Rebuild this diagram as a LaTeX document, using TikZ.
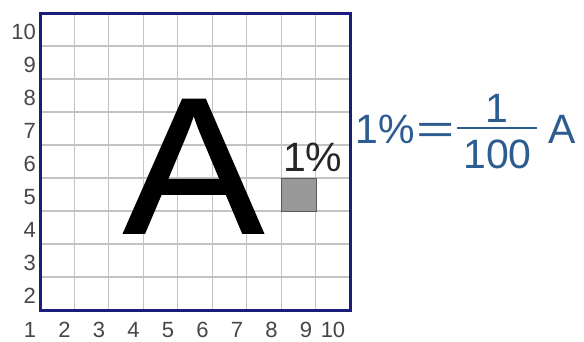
\documentclass[tikz,border=0pt]{standalone}
\usepackage{fontspec}
\setmainfont{Liberation Sans}
\newfontfamily\heavysans[FakeBold=1]{Liberation Sans}
\definecolor{framenavy}{RGB}{28,28,125}
\definecolor{gridgray}{RGB}{195,195,195}
\definecolor{labgray}{RGB}{70,70,70}
\definecolor{eqblue}{RGB}{45,92,145}
\newcommand{\fsz}[1]{\fontsize{#1}{#1}\selectfont}

\begin{document}
\begin{tikzpicture}[x=1pt,y=-1pt,every node/.style={inner sep=0pt},
  axislab/.style={font=\fsz{22},text=labgray},
  eqtext/.style={font=\fsz{41},text=eqblue,anchor=base}]
  \useasboundingbox[fill=white] (0,0) rectangle (584,341);
  % grid 9 x 9 cells
  \foreach \i in {0,...,9} {
    \draw[gridgray,line width=1.1pt] ({40+\i*34.44},13) -- ({40+\i*34.44},310);
    \draw[gridgray,line width=1.1pt] (40,{13+\i*33}) -- (350,{13+\i*33});
  }
  \draw[framenavy,line width=3pt] (40,13) rectangle (350,310);
  % axis numbers
  \node[axislab] (xlab1) at (30,330) {1};
  \foreach \k in {2,...,9}
    \node[axislab] (xlab\k) at ({30+(\k-1)*34.5},330) {\k};
  \node[axislab] (xlab10) at (333,330) {10};
  \foreach \k in {2,...,10}
    \node[axislab,anchor=east] (ylab\k) at (36,{32+(10-\k)*33}) {\k};
  % big letter and the one-percent cell
  \node[font=\heavysans\fsz{194},anchor=base] (bigA) at (193.5,233) {\scalebox{1.08}[1]{A}};
  \node[draw=black!65,fill=black!40,line width=1pt,anchor=north west,minimum width=34.44pt,minimum height=33pt] (cell) at (281.1,178) {};
  \node[font=\fsz{41},text=black!85,anchor=base west] (pctlab) at (283,171) {1\%};
  % 1% = 1/100 A
  \node[eqtext,anchor=base west] (pcteq) at (355.5,143) {1\%};
  \node[eqtext] (equal) at (436,143) {\scalebox{1.6}[1]{=}};
  \node[eqtext] (num) at (497,122) {1};
  \node[eqtext] (den) at (497.5,168) {100};
  \draw[eqblue,line width=2.8pt] (457,128) -- (537,128);
  \node[eqtext] (unitA) at (562.5,143) {A};
\end{tikzpicture}
\end{document}
